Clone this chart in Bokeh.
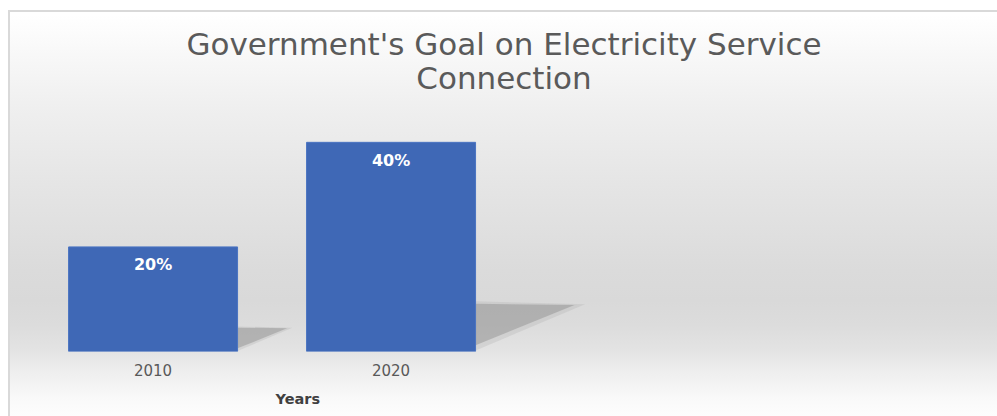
from bokeh.plotting import figure
from bokeh.models import Range1d, FixedTicker, Title, ColumnDataSource
from bokeh.core.properties import value
from bokeh.embed import file_html
from bokeh.resources import INLINE

# ---- data ----
years = ["2010", "2020"]
goal_pct = [20, 40]
goal_labels = ["20%", "40%"]
slot_positions = [0, 1]          # category slots (two more empty slots follow)
title_lines = ["Government's Goal on Electricity Service", "Connection"]
x_title = "Years"

# ---- style constants ----
BAR_W = 0.71
BAR_COLOR = "#3f68b6"

p = figure(width=997, height=416, output_backend="svg", toolbar_location=None,
           x_range=Range1d(-0.599, 3.548), y_range=Range1d(0, 48),
           y_axis_location=None, min_border_left=10, min_border_right=0,
           min_border_top=100, min_border_bottom=64, tools="", title=None)

p.border_fill_color = None
p.background_fill_color = None
p.outline_line_color = None
p.xgrid.grid_line_color = None
p.ygrid.grid_line_color = None

p.styles = {
    "background": (
        "linear-gradient(#d9d9d9,#d9d9d9) 8px 10px / 2px 406px no-repeat, "
        "linear-gradient(#d9d9d9,#d9d9d9) 8px 10px / 989px 2px no-repeat, "
        "linear-gradient(to bottom, #ffffff 0px, #ffffff 14px, #f8f8f8 55px, "
        "#eeeeee 115px, #e5e5e5 185px, #dbdbdb 270px, #d9d9d9 300px, "
        "#dcdcdc 325px, #e3e3e3 350px, #eeeeee 372px, #f9f9f9 398px, #fdfdfd 416px) "
        "10px 0px / 987px 416px no-repeat, #ffffff"
    )
}

# title: two centred lines (first added sits nearest the frame)
for i, line in enumerate(reversed(title_lines)):
    p.add_layout(Title(text=line, align="center",
                       text_font="DejaVu Sans", text_font_size="31px",
                       text_font_style="normal", text_color="#5a5a5a",
                       standoff=10 if i == 0 else -18), "above")

# shadows (derived from values)
src = ColumnDataSource(dict(x=slot_positions, top=goal_pct, lab=goal_labels))
sh_xs, sh_ys, sh2_xs, sh2_ys = [], [], [], []
for xpos, v in zip(slot_positions, goal_pct):
    xr = xpos + BAR_W / 2
    sh_xs.append([xr, xr + 0.0104 * v, xr])
    sh_ys.append([0.228 * v, 0.222 * v, 0.03 * v])
    sh2_xs.append([xr, xr + 0.0115 * v, xr])
    sh2_ys.append([0.24 * v, 0.226 * v, 0.005 * v])
p.patches(sh2_xs, sh2_ys, fill_color="#a0a0a0", fill_alpha=0.22, line_color=None)
p.patches(sh_xs, sh_ys, fill_color="#8c8c8c", fill_alpha=0.45, line_color=None)

p.vbar(x="x", top="top", bottom=0, width=BAR_W, source=src,
       fill_color=BAR_COLOR, line_color="#4a74c2", line_width=1)

p.text(x="x", y="top", text="lab", source=src, y_offset=18,
       text_align="center", text_baseline="middle",
       text_font=value("DejaVu Sans"), text_font_style="bold",
       text_font_size="16px", text_color="#ffffff")

# x axis
ax = p.xaxis[0]
ax.ticker = FixedTicker(ticks=slot_positions)
ax.major_label_overrides = {pos: yr for pos, yr in zip(slot_positions, years)}
ax.axis_line_color = None
ax.major_tick_line_color = None
ax.minor_tick_line_color = None
ax.major_tick_out = 0
ax.major_tick_in = 0
ax.major_label_standoff = 12
ax.major_label_text_font = "DejaVu Sans"
ax.major_label_text_font_size = "15px"
ax.major_label_text_color = "#595959"

# axis title "Years" placed below the axis
p.add_layout(Title(text=x_title, align="left", offset=265,
                   text_font="DejaVu Sans", text_font_style="bold",
                   text_font_size="14.5px", text_color="#404040",
                   standoff=20), "below")

open("out.html", "w").write(file_html(p, INLINE))
